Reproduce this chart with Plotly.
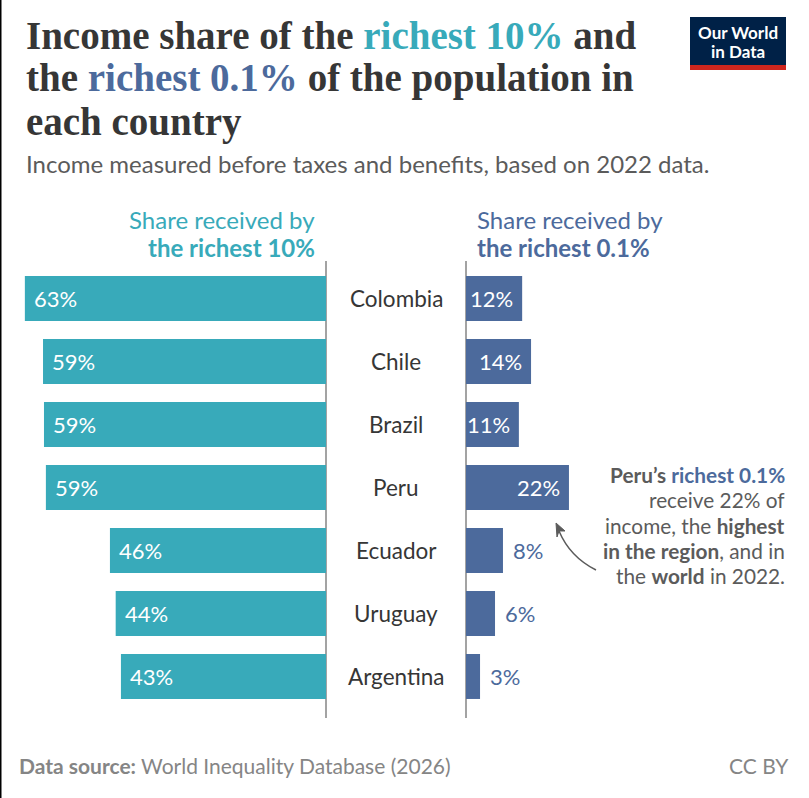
import plotly.graph_objects as go

countries = ["Colombia", "Chile", "Brazil", "Peru", "Ecuador", "Uruguay", "Argentina"]
top10_share = [63.0, 59.2, 59.0, 58.6, 45.2, 44.0, 42.9]
top01_share = [12.0, 13.9, 11.3, 22.0, 7.9, 6.2, 3.0]
top10_labels = ["63%", "59%", "59%", "59%", "46%", "44%", "43%"]
top01_labels = ["12%", "14%", "11%", "22%", "8%", "6%", "3%"]
top01_inside = [True, True, True, True, False, False, False]

TEAL = "#38aaba"
BLUE = "#4c6a9c"
DARK = "#363636"
GREY = "#5b5b5b"
FOOT = "#858585"
W, H = 809, 798


def px(x):
    return x / W


def py(y):
    return 1 - y / H


def label(x, y, text, size, color=DARK, anchor="left", family="Lato"):
    fig.add_annotation(xref="paper", yref="paper", x=px(x), y=py(y), text=text,
                       xanchor=anchor, yanchor="middle", showarrow=False,
                       align=anchor, borderpad=0,
                       font=dict(family=family, size=size, color=color))


fig = go.Figure()

fig.add_trace(go.Bar(y=countries, x=top10_share, orientation="h", marker_color=TEAL,
                     marker_line_width=0, xaxis="x", yaxis="y"))
fig.add_trace(go.Bar(y=countries, x=top01_share, orientation="h", marker_color=BLUE,
                     marker_line_width=0, xaxis="x2", yaxis="y2"))

# value labels
for c, v, t in zip(countries, top10_share, top10_labels):
    fig.add_annotation(x=v, y=c, xref="x", yref="y", text=t, showarrow=False, xanchor="left",
                       xshift=7, yshift=0, font=dict(family="Lato", size=22, color="white"))
for c, v, t, inside in zip(countries, top01_share, top01_labels, top01_inside):
    fig.add_annotation(x=v, y=c, xref="x2", yref="y2", text=t, showarrow=False,
                       xanchor="right" if inside else "left", xshift=-7 if inside else 8, yshift=0,
                       font=dict(family="Lato", size=22, color="white" if inside else BLUE))

# country names between the two panels
for i, c in enumerate(countries):
    fig.add_annotation(xref="paper", yref="y", x=px(396), y=c, text=c, showarrow=False, yshift=0,
                       font=dict(family="Lato", size=22.5, color=DARK))

# title, one annotation per line
serif = "Liberation Serif"
label(25, 35, f"<b>Income share of the <span style='color:{TEAL}'>richest 10%</span> and</b>", 39, family=serif)
label(25, 78, f"<b>the <span style='color:{BLUE}'>richest 0.1%</span> of the population in</b>", 39, family=serif)
label(25, 122, "<b>each country</b>", 39, family=serif)
label(25, 163, "Income measured before taxes and benefits, based on 2022 data.", 24, GREY)

# column headers
label(316, 219, "Share received by", 24, TEAL, "right")
label(316, 247, "<b>the richest 10%</b>", 24, TEAL, "right")
label(476, 219, "Share received by", 24, BLUE)
label(476, 247, "<b>the richest 0.1%</b>", 24, BLUE)

# callout
label(786, 474, f"<b>Peru’s <span style='color:{BLUE}'>richest 0.1%</span></b>", 20.8, GREY, "right")
label(786, 499, "receive 22% of", 20.8, GREY, "right")
label(786, 525, "income, the <b>highest</b>", 20.8, GREY, "right")
label(786, 550, "<b>in the region</b>, and in", 20.8, GREY, "right")
label(786, 575, "the <b>world</b> in 2022.", 20.8, GREY, "right")

# footer
label(18, 765, "<b>Data source:</b> World Inequality Database (2026)", 21, FOOT)
label(790, 765, "CC BY", 21, FOOT, "right")

# logo
label(738, 33, "<b>Our World</b>", 17, "white", "center")
label(738, 51, "<b>in Data</b>", 17, "white", "center")


def pt(x, y):
    return f"{px(x):.5f} {py(y):.5f}"


shapes = [
    dict(type="rect", xref="paper", yref="paper", x0=px(690), x1=px(786), y0=py(17), y1=py(65),
         fillcolor="#002147", line_width=0),
    dict(type="rect", xref="paper", yref="paper", x0=px(690), x1=px(786), y0=py(65), y1=py(70),
         fillcolor="#ce261e", line_width=0),
    dict(type="path", xref="paper", yref="paper",
         path=f"M {pt(596, 570)} Q {pt(570, 557)} {pt(559, 531)}",
         line=dict(color=GREY, width=1.5)),
    dict(type="path", xref="paper", yref="paper",
         path=f"M {pt(556, 523)} L {pt(565, 531)} L {pt(559, 531)} L {pt(557, 537)} Z",
         fillcolor=GREY, line=dict(color=GREY, width=1)),
    # dark edge on the left of the picture
    dict(type="line", xref="paper", yref="paper", x0=0, x1=0, y0=0, y1=1,
         line=dict(color="#000000", width=3)),
]

hidden = dict(showgrid=False, showticklabels=False, ticks="")
y_common = dict(hidden, visible=True, zeroline=False, showline=False, type="category",
                categoryorder="array", categoryarray=countries, range=[6.659, -0.595],
                domain=[py(718), py(261)])

fig.update_layout(
    width=W, height=H,
    margin=dict(l=0, r=0, t=0, b=0),
    paper_bgcolor="white", plot_bgcolor="rgba(0,0,0,0)",
    showlegend=False, bargap=0.286,
    xaxis=dict(hidden, domain=[0, px(326)], range=[326 / 4.78, 0],
               zeroline=True, zerolinecolor="#a3a3a3", zerolinewidth=1.5),
    xaxis2=dict(hidden, domain=[px(466), 1], range=[0, 343 / 4.68],
                zeroline=True, zerolinecolor="#a3a3a3", zerolinewidth=1.5),
    yaxis=dict(y_common, anchor="x"),
    yaxis2=dict(y_common, anchor="x2"),
    shapes=shapes,
)

fig.write_html("out.html", config={"displayModeBar": False},
               post_script="document.body.style.margin='0';")
